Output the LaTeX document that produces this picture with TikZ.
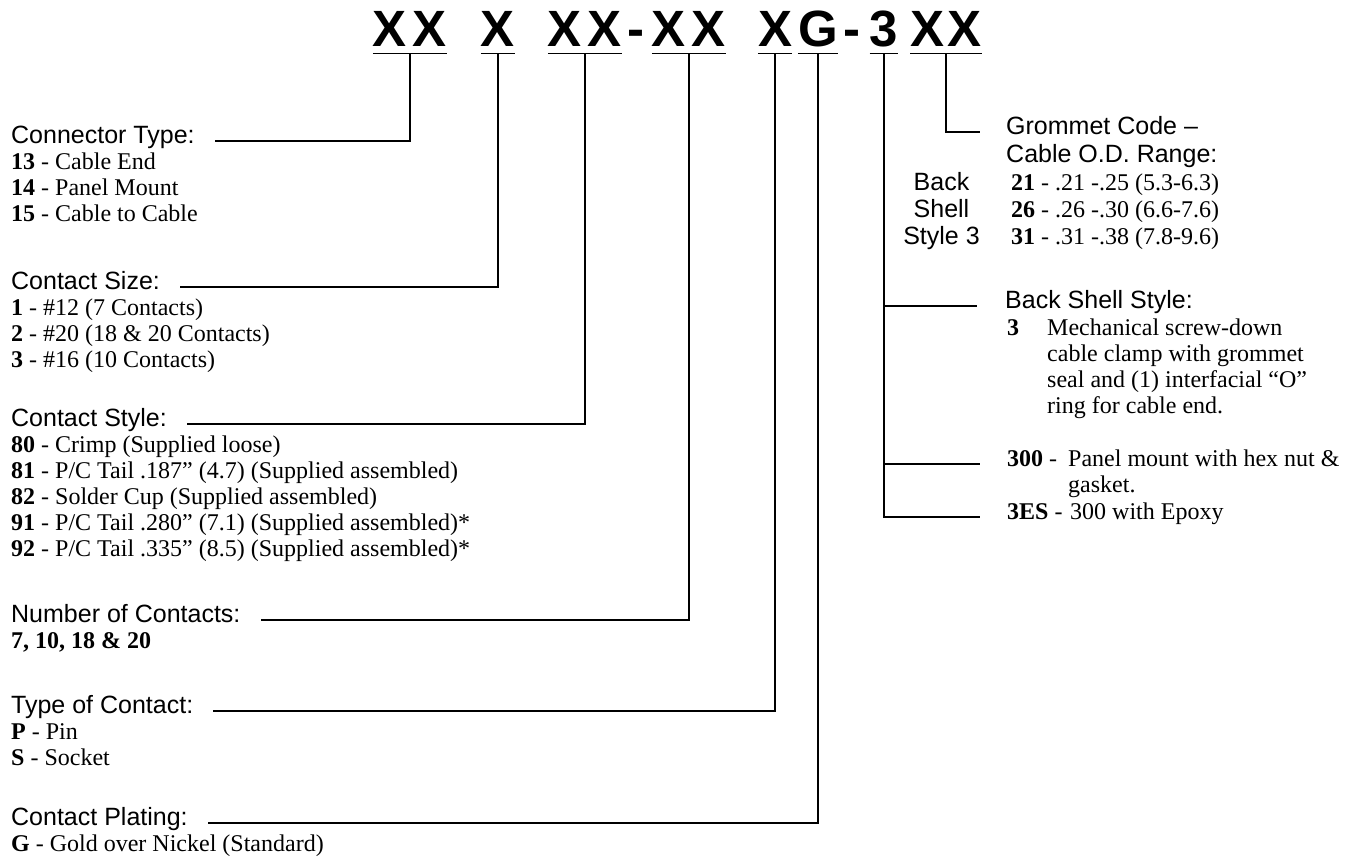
\documentclass[tikz,border=0pt]{standalone}
\usepackage{fontspec}
\setmainfont{Liberation Serif}
\setsansfont{Liberation Sans}
\begin{document}
\begin{tikzpicture}[x=1pt,y=-1pt,
  head/.style={anchor=mid west,inner sep=0pt,font=\sffamily\fontsize{25}{27}\selectfont},
  side/.style={anchor=mid,inner sep=0pt,font=\sffamily\fontsize{25}{27}\selectfont},
  body/.style={anchor=mid west,inner sep=0pt,font=\fontsize{24}{26}\selectfont},
  code/.style={anchor=base,inner sep=0pt,font=\sffamily\bfseries\fontsize{51}{51}\selectfont},
  lead/.style={line width=1.1pt,line cap=butt},
  uline/.style={line width=1.1pt}]
\useasboundingbox (0,0) rectangle (1359,861);

% ---- part number code ----
\node[code] (g1) at (410,47) {X\kern6pt X};
\node[code] (g2) at (498,47) {X};
\node[code] (g3) at (585,47) {X\kern6pt X};
\node[code] (h1) at (636,47) {-};
\node[code] (g4) at (689,47) {X\kern6pt X};
\node[code] (g5) at (775,47) {X};
\node[code] (g6) at (818,47) {G};
\node[code] (h2) at (852,47) {-};
\node[code] (g7) at (884,47) {3};
\node[code] (g8) at (946,47) {X\kern3pt X};

\foreach \g in {g1,g2,g3,g4,g5,g6,g7,g8}{
  \draw[uline] ([yshift=-6pt]\g.south west) -- ([yshift=-6pt]\g.south east);
  \coordinate (\g s) at ([yshift=-6pt]\g.south);
}

% ---- left column ----
\node[head] (ct) at (11,141) {Connector Type:};
\node[body] (ct1) at (11,167) {\textbf{13} - Cable End};
\node[body] (ct2) at (11,193) {\textbf{14} - Panel Mount};
\node[body] (ct3) at (11,219) {\textbf{15} - Cable to Cable};

\node[head] (cs) at (11,287) {Contact Size:};
\node[body] (cs1) at (11,313) {\textbf{1} - \#12 (7 Contacts)};
\node[body] (cs2) at (11,339) {\textbf{2} - \#20 (18 \& 20 Contacts)};
\node[body] (cs3) at (11,365) {\textbf{3} - \#16 (10 Contacts)};

\node[head] (cst) at (11,424) {Contact Style:};
\node[body] (cst1) at (11,450) {\textbf{80} - Crimp (Supplied loose)};
\node[body] (cst2) at (11,476) {\textbf{81} - P/C Tail .187'' (4.7) (Supplied assembled)};
\node[body] (cst3) at (11,502) {\textbf{82} - Solder Cup (Supplied assembled)};
\node[body] (cst4) at (11,528) {\textbf{91} - P/C Tail .280'' (7.1) (Supplied assembled)*};
\node[body] (cst5) at (11,554) {\textbf{92} - P/C Tail .335'' (8.5) (Supplied assembled)*};

\node[head] (noc) at (11,620) {Number of Contacts:};
\node[body] (noc1) at (11,646) {\textbf{7, 10, 18 \& 20}};

\node[head] (toc) at (11,711) {Type of Contact:};
\node[body] (toc1) at (11,737) {\textbf{P} - Pin};
\node[body] (toc2) at (11,763) {\textbf{S} - Socket};

\node[head] (cp) at (11,823) {Contact Plating:};
\node[body] (cp1) at (11,849) {\textbf{G} - Gold over Nickel (Standard)};

% ---- right column ----
\node[head] (gc) at (1006,132) {Grommet Code \textendash};
\node[head] (cod) at (1006,160) {Cable O.D. Range:};
\node[body] (r21) at (1011,188) {\textbf{21} - .21 -.25 (5.3-6.3)};
\node[body] (r26) at (1011,215) {\textbf{26} - .26 -.30 (6.6-7.6)};
\node[body] (r31) at (1011,242) {\textbf{31} - .31 -.38 (7.8-9.6)};
\node[side] (bk) at (941.5,188) {Back};
\node[side] (sh) at (941.5,215) {Shell};
\node[side] (sy) at (941.5,242) {Style 3};

\node[head] (bss) at (1005,306) {Back Shell Style:};
\node[body] (k3) at (1007,333) {\textbf{3}};
\node[body] (d1) at (1047,333) {Mechanical screw-down};
\node[body] (d2) at (1047,359) {cable clamp with grommet};
\node[body] (d3) at (1047,385) {seal and (1) interfacial ``O''};
\node[body] (d4) at (1047,411) {ring for cable end.};
\node[body] (k300) at (1007,464) {\textbf{300} -};
\node[body] (d5) at (1068,464) {Panel mount with hex nut \&};
\node[body] (d6) at (1068,490) {gasket.};
\node[body] (k3es) at (1007,517) {\textbf{3ES} -};
\node[body] (d7) at (1070,517) {300 with Epoxy};

% ---- leaders ----
\draw[lead] (g1s) |- ([xshift=20pt]ct.mid east);
\draw[lead] (g2s) |- ([xshift=20pt]cs.mid east);
\draw[lead] (g3s) |- ([xshift=20pt]cst.mid east);
\draw[lead] (g4s) |- ([xshift=20pt]noc.mid east);
\draw[lead] (g5s) |- ([xshift=20pt]toc.mid east);
\draw[lead] (g6s) |- ([xshift=20pt]cp.mid east);
\draw[lead] (g8s) |- ([xshift=-26pt]gc.mid west);
\draw[lead] (g7s) |- ([xshift=-27pt]k3es.mid west);
\draw[lead] (g7s |- bss.mid west) -- ([xshift=-28pt]bss.mid west);
\draw[lead] (g7s |- k300.mid west) -- ([xshift=-27pt]k300.mid west);
\end{tikzpicture}
\end{document}
